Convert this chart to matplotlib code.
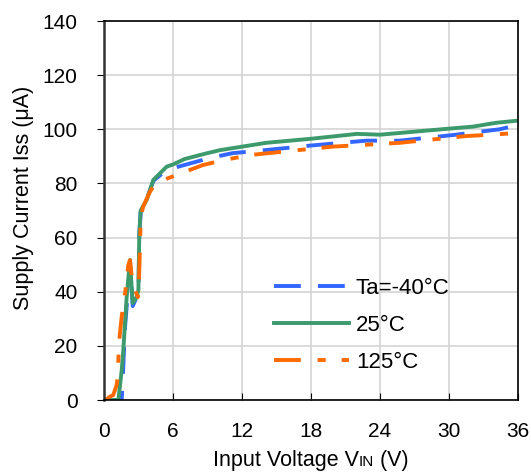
import matplotlib
matplotlib.use("Agg")
import matplotlib.pyplot as plt

plt.rcParams['font.family'] = ['Liberation Sans', 'DejaVu Sans']

# Ta = -40 C
v_cold = [0, 1.54, 1.6, 1.83, 2.26, 2.5, 2.84, 3.0, 3.07, 3.2, 3.7, 4.3, 5.45,
          7.5, 9.2, 11.2, 13.3, 18, 22.8, 25.7, 30.4, 34.4, 36]
i_cold = [0, 0, 5, 27, 50, 34.7, 38, 40, 61, 70, 74, 81, 85,
          87.4, 89.4, 91.2, 92, 94, 95.8, 95.8, 97.9, 100, 101.6]
# 25 C
v_room = [0, 1.25, 1.54, 1.68, 1.97, 2.26, 2.49, 2.84, 2.99, 3.07, 3.19, 3.71,
          4.29, 5.45, 6, 7, 8.9, 10.1, 14.1, 18, 22, 24, 28, 32.1, 34.1, 36]
i_room = [0, 0, 11, 18.5, 38, 51.7, 35.8, 38, 40.6, 61.6, 70, 73.9,
          81.3, 86.2, 87, 89, 91.1, 92.3, 95, 96.5, 98.3, 98, 99.5, 101, 102.4, 103.2]
# 125 C
v_hot = [0, 0.3, 0.5, 0.8, 1.1, 1.2, 1.3, 1.54, 1.83, 2.12, 2.26, 2.41, 2.7, 2.95,
         3.07, 3.2, 3.4, 4.0, 4.6, 5.0, 6.3, 8.6, 10.4, 12.7, 14.1, 19.9, 25.7,
         31.5, 34.1, 36]
i_hot = [0, 0.5, 1.2, 1.8, 5.5, 9, 21, 30.8, 39.4, 49.9, 51.7, 45.6, 40.6, 38,
         48, 67.7, 71.4, 77, 80.6, 81, 83.1, 86.8, 88.6, 90.5, 91.1, 93.6, 95,
         97.5, 98.1, 98.7]

labels = ['Ta=-40°C', '25°C', '125°C']
xticks = [0, 6, 12, 18, 24, 30, 36]
yticks = [0, 20, 40, 60, 80, 100, 120, 140]

fig = plt.figure(figsize=(5.31, 4.72), dpi=100)
ax = fig.add_axes([104/531, 1-400/472, 414/531, 379/472])

lw = 2.8
ax.plot(v_cold, i_cold, color='#3366ff', lw=lw, dashes=(6.9, 4.4), label=labels[0])
ax.plot(v_room, i_room, color='#3c9a6c', lw=lw, label=labels[1])
ax.plot(v_hot, i_hot, color='#ff6a00', lw=lw, dashes=(6.9, 4.3, 2.1, 4.1), label=labels[2])

ax.set_xlim(0, 36)
ax.set_ylim(0, 140)
ax.set_xticks(xticks)
ax.set_yticks(yticks)
ax.grid(True, color='#d4d4d4', lw=1.2)
ax.set_axisbelow(True)
ax.tick_params(axis='x', direction='in', length=5, labelsize=15, pad=16)
ax.tick_params(axis='y', direction='out', length=5, labelsize=15, pad=14)
for s in ax.spines.values():
    s.set_color('black')
    s.set_linewidth(1.2)
ax.spines['left'].set_color('#333333')
ax.spines['left'].set_linewidth(1.8)

ax.set_ylabel('Supply Current Iss (μA)', fontsize=15.5)
ax.yaxis.set_label_coords(-0.168, 0.532)

leg = ax.legend(loc='upper left', bbox_to_anchor=(0.41, 0.322), frameon=False,
                fontsize=16, handlelength=3.4, handletextpad=0.3,
                labelspacing=0.72, borderpad=0, borderaxespad=0)

# x label with small "IN"
fig.canvas.draw()
r = fig.canvas.get_renderer()
parts = [('Input Voltage V', 15.5), ('IN', 11), (' (V)', 15.5)]
texts = []
total = 0
for s, fs in parts:
    t = fig.text(0, 0, s, fontsize=fs, va='baseline', ha='left')
    w = t.get_window_extent(r).width
    texts.append((t, w))
    total += w
x0 = (311 - total / 2) / 531
yb = 1 - 466 / 472
for t, w in texts:
    t.set_position((x0, yb))
    x0 += w / 531

fig.savefig('out.png', dpi=100)
